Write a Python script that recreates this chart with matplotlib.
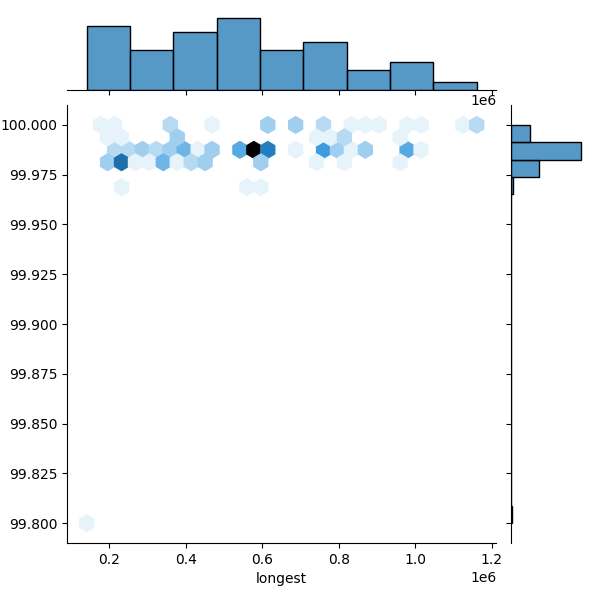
import numpy as np
import matplotlib
matplotlib.use('Agg')
import matplotlib.pyplot as plt
import seaborn as sns
from seaborn.utils import set_hls_values

# hex cells: longest contig (bp), identity (%), genomes in cell
# identity 100.0
longest_a = [176900, 213400, 359200, 468500, 614300, 687200, 760100, 833000,
             869400, 905900, 978800, 1015200, 1124500, 1161000]
count_a = [1, 1, 3, 1, 4, 4, 3, 1, 1, 1, 1, 1, 1, 3]
# identity 99.994
longest_b = [195200, 231600, 377400, 741900, 778300, 814800, 960500]
count_b = [1, 1, 4, 1, 1, 3, 1]
# identity 99.988
longest_c = [213400, 249800, 286300, 322700, 359200, 395600, 432100, 468500,
             541400, 577900, 614300, 687200, 760100, 796500, 833000, 869400,
             978800, 1015200]
count_c = [3, 3, 4, 3, 4, 6, 1, 4, 7, 18, 10, 1, 8, 4, 1, 4, 7, 1]
# identity 99.981
longest_d = [195200, 231600, 268100, 304500, 341000, 377400, 413800, 450300,
             596100, 741900, 814800, 960500]
count_d = [4, 11, 1, 1, 6, 1, 3, 4, 4, 1, 1, 1]
# identity 99.969
longest_e = [231600, 559600, 596100]
count_e = [1, 1, 1]
# identity 99.8
longest_f = [140500]
count_f = [1]

rows = [(100.0, longest_a, count_a), (99.994, longest_b, count_b),
        (99.988, longest_c, count_c), (99.981, longest_d, count_d),
        (99.969, longest_e, count_e), (99.8, longest_f, count_f)]

# marginal histograms
longest_hist = [32, 20, 29, 36, 20, 24, 10, 14, 4]
identity_hist = [1, 0, 0, 0, 0, 0, 0, 0, 0, 0, 0, 0, 0, 0, 0, 0, 0, 0, 0,
                 3, 43, 110, 30]

x, y, w = [], [], []
for ident, xs, cs in rows:
    x += xs
    y += [ident] * len(xs)
    w += cs
x = np.array(x, dtype=float)
y = np.array(y)
w = np.array(w)

color = 'C0'
rgb = matplotlib.colors.to_rgb(color)
cmap = sns.blend_palette([set_hls_values(rgb, l=l) for l in np.linspace(1, 0, 12)],
                         as_cmap=True)

g = sns.JointGrid(height=6)
g.ax_joint.hexbin(x, y, C=w, reduce_C_function=np.sum, gridsize=28,
                  cmap=cmap, vmin=0)

xedges = np.linspace(x.min(), x.max(), len(longest_hist) + 1)
g.ax_marg_x.bar(xedges[:-1], longest_hist, width=np.diff(xedges), align='edge',
                facecolor=matplotlib.colors.to_rgba(color, 0.75),
                edgecolor='black', linewidth=1)
yedges = np.linspace(y.min(), y.max(), len(identity_hist) + 1)
g.ax_marg_y.barh(yedges[:-1], identity_hist, height=np.diff(yedges), align='edge',
                 facecolor=matplotlib.colors.to_rgba(color, 0.75),
                 edgecolor='black', linewidth=1)

g.ax_joint.set_xlabel('longest')
g.ax_joint.set_ylabel('')

g.figure.subplots_adjust(left=0.112, right=0.975, bottom=0.095, top=0.976,
                         hspace=0.2, wspace=0.2)
g.figure.savefig('out.png', dpi=100)
